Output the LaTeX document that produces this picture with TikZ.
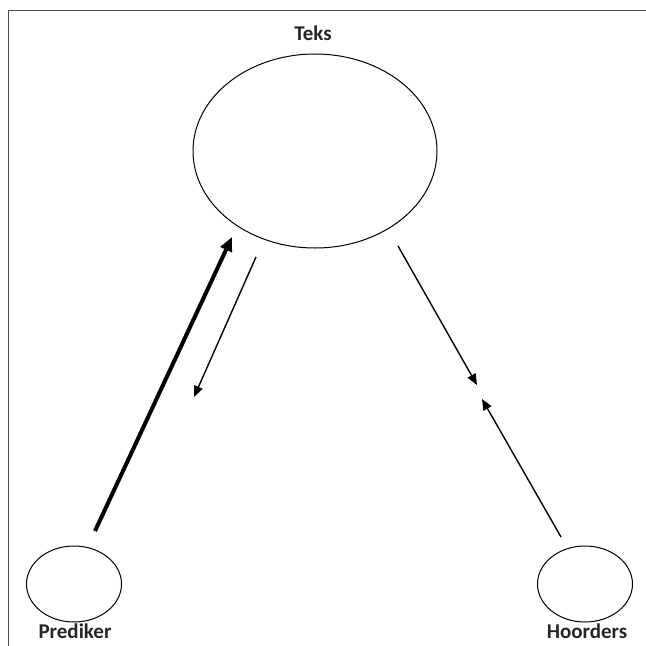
\documentclass[tikz,border=0pt]{standalone}
\usepackage{fontspec}
\setmainfont{Carlito}
\usetikzlibrary{arrows.meta,shapes.geometric}
\begin{document}
\begin{tikzpicture}[x=1pt,y=-1pt,
  circ/.style={draw,ellipse,line width=1pt,inner sep=0pt},
  lbl/.style={font=\bfseries\fontsize{21}{24}\selectfont,text=black!85},
  thinarrow/.style={line width=1.4pt,-{Triangle[length=11pt,width=9pt]}},
  thickarrow/.style={line width=4pt,-{Triangle[length=14pt,width=12pt]}}]
\useasboundingbox (0,0) rectangle (646,646);
\draw[black!70,line width=1pt] (8,646) -- (8,10) -- (646,10);
\node[circ,minimum width=244pt,minimum height=194pt] (teks) at (315,151) {};
\node[circ,minimum width=95pt,minimum height=76pt] (pred) at (74,584) {};
\node[circ,minimum width=95pt,minimum height=76pt] (hoor) at (585,584) {};
\node[lbl] (teksl) at (313,33) {Teks};
\node[lbl] (predl) at (75,631) {Prediker};
\node[lbl] (hoorl) at (587,631) {Hoorders};
\coordinate (a1s) at (95,531);
\coordinate (a1e) at (232,237);
\coordinate (a2s) at (256,257);
\coordinate (a2e) at (194,397);
\coordinate (a3s) at (398,246);
\coordinate (a3e) at (477,385);
\coordinate (a4s) at (561,537);
\coordinate (a4e) at (482,399);
\draw[thickarrow] (a1s) -- (a1e);
\draw[thinarrow] (a2s) -- (a2e);
\draw[thinarrow] (a3s) -- (a3e);
\draw[thinarrow] (a4s) -- (a4e);
\end{tikzpicture}
\end{document}
